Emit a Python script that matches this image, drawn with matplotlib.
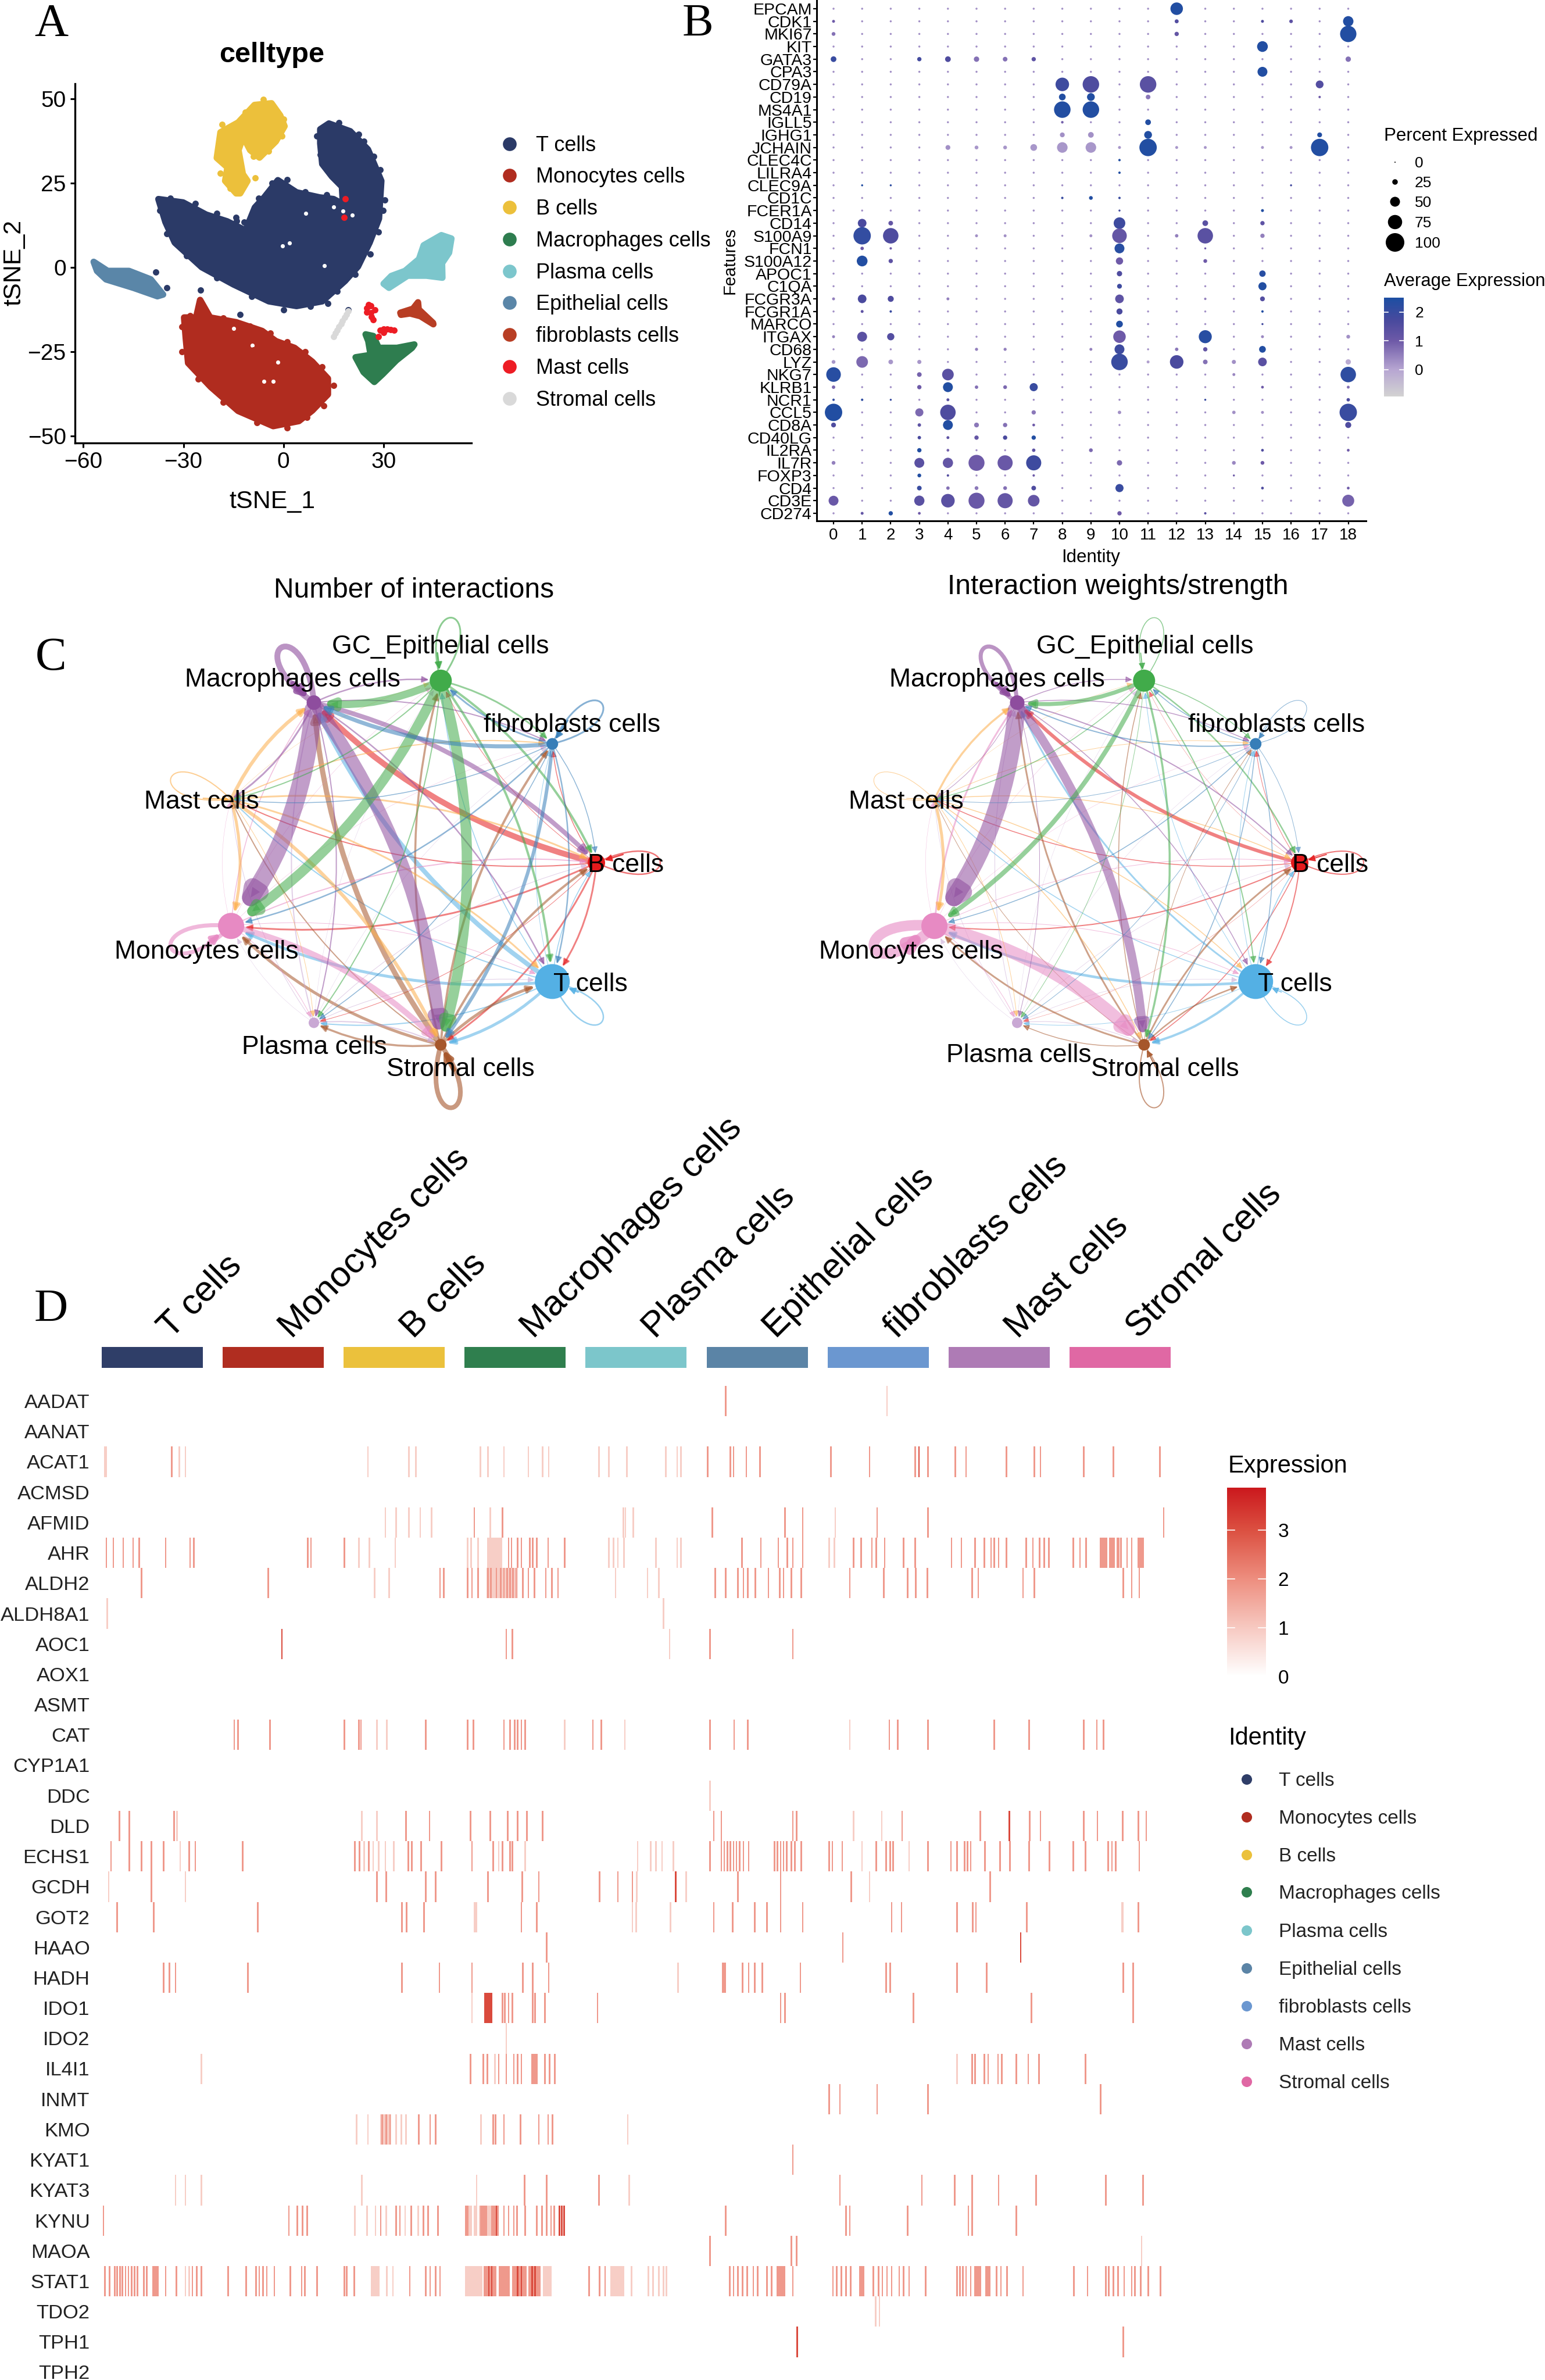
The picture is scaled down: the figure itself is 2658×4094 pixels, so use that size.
import numpy as np
import matplotlib
matplotlib.use("Agg")
import matplotlib.pyplot as plt
from matplotlib.colors import LinearSegmentedColormap
from matplotlib.patches import FancyArrowPatch, PathPatch, Rectangle
from matplotlib.path import Path

plt.rcParams['font.family'] = ['Liberation Sans', 'DejaVu Sans']

W, H = 2658, 4094

# ---- panel A data (outlines of the clouds)
cell_types = ['T cells', 'Monocytes cells', 'B cells', 'Macrophages cells', 'Plasma cells',
              'Epithelial cells', 'fibroblasts cells', 'Mast cells', 'Stromal cells']
tsne_colors = ['#2b3a67', '#b02c1f', '#ecc03b', '#2e7d4f', '#7cc6cc', '#5a86a8', '#b83e24', '#ed1c24', '#d9d9d9']
t_cells = [(-37.5, 20.3), (-30.1, 19.3), (-23.2, 15.7), (-16.9, 13.7), (-11.4, 11.0), (-8.6, 17.8), (-5.8, 20.8),
           (-1.7, 25.9), (3.9, 22.3), (10.8, 20.8), (15.0, 20.3), (17.8, 18.8), (17.5, 24.0), (14.5, 27.0),
           (11.6, 30.7), (11.0, 36.8), (11.0, 41.0), (13.6, 42.7), (20.0, 40.4), (25.3, 35.0), (29.3, 25.7),
           (28.6, 14.5), (25.8, 7.4), (22.3, 0.3), (18.4, -4.0), (11.6, -10.0), (3.9, -11.4), (-4.4, -10.0),
           (-15.0, -5.0), (-24.5, 0.1), (-32.6, 7.4), (-35.4, 13.5)]
edge_t = [(-34, 20.6), (-26.5, 19), (-20, 16), (-14, 13.8), (-7.5, 20.5), (-3.5, 25), (1, 26), (6.5, 22.5), (13, 21.5),
          (22.5, 39.5), (24, 37.5), (27, 33), (29, 29), (30.3, 20), (29.8, 17), (28.5, 10.5), (26, 4), (21.5, -2),
          (16, -7), (8, -11.5), (0, -12.5), (-9.5, -8.5), (-20, -3), (-29, 3.5), (-35, 10), (-37, 17), (11.0, 33.5),
          (10, 39), (16.5, 43), (13.5, 29)]
mono_cells = [(-29.8, -14.8), (-26.2, -14.8), (-25.0, -9.6), (-22.0, -14.8), (-14.2, -16.2), (-6.4, -18.8),
              (-2.3, -21.8), (3.3, -23.8), (8.6, -27.9), (13.3, -32.9), (13.3, -37.6), (8.6, -42.4), (4.6, -45.5),
              (-3.1, -47.0), (-13.6, -42.5), (-21.8, -35.4), (-28.6, -28.3), (-29.3, -21.0)]
edge_mono = [(-28, -14.2), (-18, -15), (-10, -17.3), (-4, -19.5), (1, -22), (6.5, -25), (11.5, -29.5), (15, -35), (12, -41),
             (7, -44.5), (1, -47.5), (-8, -46), (-18, -40), (-25.5, -33), (-30.5, -25), (-30.5, -17.5)]
b_cells = [(-14.2, 22.0), (-17.5, 25.7), (-16.8, 29.7), (-20.0, 32.5), (-18.9, 40.1), (-13.6, 43.0), (-8.7, 48.2),
           (-3.6, 48.7), (-1.0, 45.1), (0.3, 41.9), (-2.3, 37.4), (-7.2, 32.6), (-10.0, 34.8), (-12.1, 38.8),
           (-13.5, 34.8), (-12.2, 27.7), (-10.8, 25.7), (-13.0, 22.0)]
edge_b = [(-19.5, 36), (-18.5, 42.5), (-11.5, 46), (-6, 49.8), (0, 44), (-0.5, 39), (-4.5, 34.5), (-9, 33), (-19, 28),
          (-16, 23.5), (-8.5, 26.5)]
macro_cells = [(24.6, -19.8), (26.9, -20.3), (28.5, -23.8), (34.0, -23.8), (39.2, -22.8), (38.5, -23.8), (33.8, -27.5),
               (29.7, -31.6), (27.2, -33.9), (24.0, -31.0), (21.6, -26.6), (26.1, -25.9), (25.4, -21.8)]
plasma_cells = [(30.0, -4.8), (32.3, -2.5), (36.4, -1.0), (40.6, 2.5), (42.0, 6.6), (47.3, 9.6), (50.3, 8.6),
                (49.6, 4.4), (47.5, 1.3), (47.6, -3.0), (42.8, -2.4), (37.2, -2.4), (31.6, -6.0)]
epi_cells = [(-56.9, 1.7), (-52.7, -1.0), (-46.3, -1.0), (-39.8, -3.5), (-36.1, -8.0), (-37.8, -8.5), (-45.0, -6.0),
             (-53.2, -3.5), (-55.9, -1.0)]
fibro_cells = [(35.0, -13.4), (38.8, -12.2), (40.3, -10.3), (40.5, -12.4), (44.8, -16.4), (44.9, -16.8), (41.0, -14.4),
               (37.9, -13.6), (35.2, -14.0)]
mast_cells = [(25.4, -10.9), (26.1, -13.4), (26.8, -15.4), (25.0, -12.0), (27.3, -12.5), (26.2, -11.4), (24.9, -13.2),
              (26.4, -14.6), (28.9, -18.5), (30.0, -18.2), (31.0, -18.2), (32.0, -18.4), (33.1, -18.5), (30.0, -19.2),
              (18.2, 14.9), (18.5, 20.3), (28.5, -20.5)]
stromal_cells = [(19.4, -12.9), (18.8, -13.9), (18.3, -14.8), (17.7, -15.8), (17.2, -16.7), (16.6, -17.6), (16.1, -18.6),
                 (15.5, -19.5), (15.0, -20.5)]
stray_t = [(-38.2, -1.4), (-35.0, -6.0), (-24.9, -6.6), (-13.1, -13.9), (-14.2, 14.8), (-11.8, 13.5), (13.3, -10.6),
           (17.8, 18.6), (21.2, 18.6), (19.4, -12.5)]
holes_t = [(-0.3, 6.4), (1.8, 7.2), (12.2, 0.5), (17.8, 16.8), (15.0, 18.0), (20.6, 15.5), (6.7, 16.0)]
holes_mono = [(-9.3, -23.0), (-1.7, -28.1), (-14.9, -18.0), (-5.8, -33.7), (-3.1, -33.7)]
stray_mono = [(-9.0, -24.5)]

# ---- panel B data
dot_genes = ['EPCAM', 'CDK1', 'MKI67', 'KIT', 'GATA3', 'CPA3', 'CD79A', 'CD19', 'MS4A1', 'IGLL5', 'IGHG1', 'JCHAIN',
             'CLEC4C', 'LILRA4', 'CLEC9A', 'CD1C', 'FCER1A', 'CD14', 'S100A9', 'FCN1', 'S100A12', 'APOC1', 'C1QA',
             'FCGR3A', 'FCGR1A', 'MARCO', 'ITGAX', 'CD68', 'LYZ', 'NKG7', 'KLRB1', 'NCR1', 'CCL5', 'CD8A', 'CD40LG',
             'IL2RA', 'IL7R', 'FOXP3', 'CD4', 'CD3E', 'CD274']
idents = list(range(19))
# percent expressed, only where above the background dot
dot_pct = {
    'EPCAM': {12: 65}, 'CDK1': {18: 53, 12: 16, 15: 10, 16: 14, 0: 10}, 'MKI67': {18: 87, 12: 18, 0: 15},
    'KIT': {15: 55}, 'GATA3': {0: 26, 3: 18, 4: 26, 5: 24, 6: 20, 7: 18, 18: 24}, 'CPA3': {15: 50},
    'CD79A': {8: 71, 9: 88, 11: 88, 17: 38}, 'CD19': {8: 32, 9: 38, 11: 20, 17: 7}, 'MS4A1': {8: 88, 9: 88},
    'IGLL5': {11: 26, 8: 8}, 'IGHG1': {11: 38, 17: 21, 8: 21, 9: 26},
    'JCHAIN': {11: 93, 17: 93, 4: 21, 5: 15, 6: 15, 7: 32, 8: 54, 9: 54, 10: 10, 12: 10, 13: 10, 15: 10, 16: 10},
    'CLEC4C': {10: 7}, 'LILRA4': {10: 7}, 'CLEC9A': {1: 5, 2: 5, 16: 5}, 'CD1C': {8: 7, 9: 15, 10: 7},
    'FCER1A': {15: 10, 10: 5}, 'CD14': {1: 43, 2: 20, 10: 60, 13: 26, 15: 18},
    'S100A9': {1: 93, 2: 82, 10: 77, 13: 82, 12: 13, 15: 18, 6: 10, 5: 10, 9: 10},
    'FCN1': {10: 50, 1: 13, 2: 7, 13: 5}, 'S100A12': {1: 55, 2: 18, 10: 35, 13: 15}, 'APOC1': {10: 24, 15: 30},
    'C1QA': {10: 21, 15: 40}, 'FCGR3A': {1: 43, 2: 28, 10: 43, 15: 21, 0: 10, 4: 10, 13: 7},
    'FCGR1A': {1: 10, 2: 7, 10: 28, 15: 7}, 'MARCO': {10: 32, 15: 5},
    'ITGAX': {1: 50, 2: 35, 10: 65, 13: 68, 0: 10, 15: 10, 18: 15},
    'CD68': {10: 50, 13: 18, 15: 32, 12: 13, 5: 11, 6: 11, 9: 10},
    'LYZ': {10: 88, 12: 71, 1: 60, 0: 15, 2: 20, 3: 17, 13: 20, 14: 17, 15: 43, 18: 24, 11: 10},
    'NKG7': {0: 77, 18: 82, 4: 60, 3: 20, 14: 10}, 'KLRB1': {4: 50, 7: 40, 3: 18, 5: 13, 6: 15, 0: 13, 18: 10, 15: 9},
    'NCR1': {0: 7, 1: 7, 2: 5, 4: 10, 13: 5, 18: 13},
    'CCL5': {0: 93, 18: 93, 4: 82, 3: 40, 7: 18, 10: 13, 15: 10, 14: 13},
    'CD8A': {0: 21, 4: 50, 5: 21, 6: 18, 3: 13, 7: 9, 18: 28}, 'CD40LG': {3: 13, 4: 10, 5: 18, 6: 18, 7: 18},
    'IL2RA': {3: 18, 4: 9, 7: 13, 9: 15, 15: 9, 18: 9},
    'IL7R': {0: 15, 3: 50, 4: 52, 5: 85, 6: 80, 7: 80, 10: 24, 14: 15, 15: 15},
    'FOXP3': {3: 15, 4: 7, 7: 7, 14: 5}, 'CD4': {3: 20, 4: 13, 5: 15, 6: 15, 7: 20, 10: 40, 15: 9, 18: 9},
    'CD3E': {0: 50, 3: 52, 4: 71, 5: 85, 6: 80, 7: 60, 18: 62}, 'CD274': {1: 10, 2: 18, 3: 9, 10: 18, 13: 7},
}
# average expression of the same dots
dot_avg = {
    'EPCAM': {12: 2.4}, 'CDK1': {18: 2.4, 12: 1.5, 15: 1.6, 16: 1.3, 0: 1.0}, 'MKI67': {18: 2.4, 12: 1.2, 0: 0.7},
    'KIT': {15: 2.4}, 'GATA3': {0: 2.0, 3: 1.8, 4: 1.6, 5: 0.7, 6: 0.7, 7: 1.3, 18: 0.7}, 'CPA3': {15: 2.4},
    'CD79A': {8: 1.9, 9: 1.6, 11: 1.4, 17: 1.5}, 'CD19': {8: 2.4, 9: 2.4, 11: 0.6, 17: 1.0}, 'MS4A1': {8: 2.4, 9: 2.4},
    'IGLL5': {11: 2.4, 8: 0.9}, 'IGHG1': {11: 2.4, 17: 2.4, 8: 0.3, 9: 0.3},
    'JCHAIN': {11: 2.4, 17: 2.4, 4: 0.3, 5: 0.2, 6: 0.2, 7: 0.2, 8: 0.2, 9: 0.2, 10: 0.2, 12: 0.2, 13: 0.2, 15: 0.2, 16: 0.2},
    'CLEC4C': {10: 2.4}, 'LILRA4': {10: 2.4}, 'CLEC9A': {1: 2.4, 2: 2.2, 16: 1.8}, 'CD1C': {8: 2.0, 9: 2.4, 10: 2.0},
    'FCER1A': {15: 2.4, 10: 1.8}, 'CD14': {1: 1.7, 2: 1.2, 10: 1.9, 13: 1.4, 15: 1.3},
    'S100A9': {1: 2.1, 2: 1.6, 10: 1.2, 13: 1.4, 12: 0.5, 15: 0.5, 6: 0.3, 5: 0.3, 9: 0.3},
    'FCN1': {10: 2.3, 1: 1.0, 2: 1.0, 13: 1.0}, 'S100A12': {1: 2.4, 2: 1.3, 10: 1.0, 13: 1.0}, 'APOC1': {10: 1.6, 15: 2.3},
    'C1QA': {10: 1.9, 15: 2.4}, 'FCGR3A': {1: 1.7, 2: 1.6, 10: 1.3, 15: 1.5, 0: 0.5, 4: 0.5, 13: 0.5},
    'FCGR1A': {1: 1.3, 2: 2.0, 10: 1.7, 15: 2.4}, 'MARCO': {10: 2.4, 15: 1.8},
    'ITGAX': {1: 1.4, 2: 1.5, 10: 1.0, 13: 2.3, 0: 0.5, 15: 0.4, 18: 0.3},
    'CD68': {10: 1.9, 13: 1.2, 15: 2.4, 12: 0.6, 5: 0.5, 6: 0.5, 9: 0.5},
    'LYZ': {10: 2.0, 12: 1.7, 1: 0.8, 0: 0.2, 2: 0.2, 3: 0.2, 13: 0.7, 14: 0.3, 15: 1.4, 18: -0.1, 11: 0.1},
    'NKG7': {0: 2.3, 18: 2.2, 4: 1.4, 3: 0.9, 14: 0.4}, 'KLRB1': {4: 2.4, 7: 2.0, 3: 1.0, 5: 0.7, 6: 0.8, 0: 0.8, 18: 0.7, 15: 1.0},
    'NCR1': {0: 2.1, 1: 2.2, 2: 2.0, 4: 1.4, 13: 2.0, 18: 1.6},
    'CCL5': {0: 2.4, 18: 2.0, 4: 1.6, 3: 0.8, 7: 0.6, 10: 0.3, 15: 0.3, 14: 0.3},
    'CD8A': {0: 1.6, 4: 2.4, 5: 0.6, 6: 0.7, 3: 1.3, 7: 1.0, 18: 1.6}, 'CD40LG': {3: 1.7, 4: 1.3, 5: 1.2, 6: 1.7, 7: 2.4},
    'IL2RA': {3: 2.4, 4: 0.9, 7: 1.3, 9: 0.8, 15: 1.6, 18: 1.0},
    'IL7R': {0: 0.5, 3: 1.4, 4: 1.2, 5: 1.0, 6: 1.1, 7: 1.9, 10: 0.8, 14: 0.4, 15: 1.0},
    'FOXP3': {3: 2.4, 4: 1.5, 7: 1.0, 14: 1.0}, 'CD4': {3: 2.0, 4: 0.7, 5: 0.6, 6: 0.7, 7: 1.6, 10: 2.0, 15: 1.6, 18: 1.0},
    'CD3E': {0: 1.1, 3: 1.4, 4: 1.4, 5: 1.1, 6: 1.2, 7: 1.2, 18: 0.9}, 'CD274': {1: 1.2, 2: 2.4, 3: 1.0, 10: 1.0, 13: 1.4},
}
pct_legend = [0, 25, 50, 75, 100]

# ---- panel C data: edge widths, row = source, column = target
net_names = ['B cells', 'T cells', 'Stromal cells', 'Plasma cells', 'Monocytes cells', 'Mast cells', 'Macrophages cells',
             'GC_Epithelial cells', 'fibroblasts cells']
net_colors = ['#e41a1c', '#54b0e4', '#a6562b', '#c9a8d4', '#e78ac3', '#fdae4b', '#8e4d9e', '#41ab4a', '#377eb8']
node_size = [30, 60, 20, 18, 45, 5, 25, 38, 20]
n_interactions = [
    [2.5, 3, 3, 1, 3, 2, 10, 1, 1.5],
    [1.5, 2.5, 5, 2, 5, 2, 8, 1.5, 1],
    [4, 5, 8, 3.5, 5, 2, 9, 3.5, 4],
    [1, 1, 2, 0, 0.5, 1, 2, 0.5, 0.5],
    [2, 1, 10, 1, 7, 0.5, 1.5, 0.5, 0.5],
    [3, 3, 6, 1, 5, 2, 6, 0.5, 2],
    [8, 2.5, 22, 2, 30, 3, 10, 2.5, 2],
    [4, 4, 18, 2, 17, 2, 13, 3, 3],
    [1.5, 2.5, 6, 1.5, 2.5, 1.5, 7, 3, 3],
]
strength = [
    [2, 2, 1.5, 0.5, 2, 1.5, 6, 0.5, 1],
    [1.5, 1.5, 4, 1, 4.5, 1.5, 3, 1, 1],
    [3, 2.5, 2, 1.5, 3, 1, 3, 1.5, 1],
    [0.7, 0.7, 1, 0, 0.5, 0.7, 1, 0.5, 0.5],
    [1, 1, 22, 1, 18, 0.5, 3, 0.5, 0.5],
    [1.5, 1.5, 1.5, 1, 5, 1, 3.5, 0.5, 1],
    [2, 1.5, 15, 1, 30, 1, 7, 1.5, 1.5],
    [2.5, 2, 3.5, 1, 8, 1.5, 7, 1.5, 1.5],
    [1, 1.5, 1.5, 1, 1.5, 1, 2, 1.5, 1],
]

# ---- panel D data: column number of the coloured stripes per gene
heat_genes = ['AADAT', 'AANAT', 'ACAT1', 'ACMSD', 'AFMID', 'AHR', 'ALDH2', 'ALDH8A1', 'AOC1', 'AOX1', 'ASMT', 'CAT',
              'CYP1A1', 'DDC', 'DLD', 'ECHS1', 'GCDH', 'GOT2', 'HAAO', 'HADH', 'IDO1', 'IDO2', 'IL4I1', 'INMT', 'KMO',
              'KYAT1', 'KYAT3', 'KYNU', 'MAOA', 'STAT1', 'TDO2', 'TPH1', 'TPH2']
header_colors = ['#2f3e68', '#b02d20', '#ebc13c', '#2f7f4e', '#7cc6cb', '#5b84a6', '#6b97d0', '#ae7bb5', '#e068a4']
heat_low = {
    'AADAT': [1166],
    'ACAT1': [235, 243, 483, 537, 546, 631, 641, 662, 694, 713, 721, 787, 800, 824, 875, 890, 895],
    'AFMID': [506, 520, 537, 552, 567, 644, 819, 822, 832, 1098],
    'AHR': [471, 485, 519, 614, 619, 628, 800, 806, 812, 820, 862, 890, 895, 1090, 1097],
    'ALDH2': [492, 511, 809, 851, 866],
    'ALDH8A1': [140, 872], 'AOC1': [880],
    'CAT': [495, 508, 742, 821, 1117], 'DDC': [933],
    'DLD': [232, 475, 495, 1122, 1159],
    'ECHS1': [236, 478, 490, 497, 506, 517, 655, 690, 838, 855, 862, 870, 885, 1133, 1195],
    'GCDH': [142, 243, 837, 902, 1143], 'GOT2': [831, 836, 881], 'HADH': [891], 'IDO1': [620], 'IDO2': [665],
    'IL4I1': [264, 650, 1258], 'KMO': [468, 483, 520, 527, 533, 632, 825],
    'KYAT3': [230, 243, 264, 475, 626, 827], 'KYNU': [466, 482, 493, 507, 532, 549], 'MAOA': [1501],
    'STAT1': [243, 248, 508, 516, 830, 852, 858, 866, 872, 876],
    'TDO2': [1151, 1156],
}
heat_mid = {
    'AADAT': [954],
    'ACAT1': [225, 930, 960, 964, 981, 999, 1092, 1143, 1203, 1220, 1256, 1270, 1323, 1360, 1368, 1425, 1464, 1525],
    'AFMID': [623, 660, 936, 1032, 1055, 1153, 1220, 1530],
    'AHR': [139, 148, 161, 174, 182, 217, 249, 254, 404, 408, 452, 668, 672, 680, 685, 696, 700, 705, 720, 742,
            975, 1000, 1023, 1035, 1042, 1055, 1122, 1132, 1146, 1152, 1163, 1188, 1203, 1251, 1264, 1282, 1294, 1303,
            1307, 1313, 1323, 1349, 1358, 1367, 1373, 1379, 1411, 1420, 1428, 1474, 1482, 1488],
    'ALDH2': [185, 352, 578, 583, 614, 620, 628, 641, 645, 652, 658, 662, 666, 670, 674, 678, 687, 694, 702, 717, 725,
              733, 940, 954, 970, 977, 983, 993, 1010, 1025, 1030, 1040, 1053, 1117, 1162, 1193, 1204, 1219, 1278, 1286,
              1345, 1360, 1477, 1488, 1498],
    'AOC1': [665, 673, 933, 1042],
    'CAT': [307, 312, 354, 452, 471, 474, 559, 614, 622, 662, 670, 676, 680, 685, 690, 779, 790, 933, 965, 983, 1169,
            1180, 1220, 1307, 1353, 1425, 1442, 1451],
    'DLD': [156, 169, 228, 533, 564, 618, 644, 667, 680, 692, 713, 938, 948, 1042, 1047, 1186, 1289, 1354, 1368, 1425,
            1443, 1476, 1497, 1507],
    'ECHS1': [145, 169, 185, 198, 214, 248, 256, 318, 466, 472, 484, 536, 541, 553, 580, 620, 648, 660, 670, 673,
              933, 948, 952, 956, 960, 964, 968, 972, 977, 984, 1018, 1022, 1026, 1030, 1034, 1040, 1045, 1053,
              1090, 1094, 1107, 1152, 1165, 1170, 1174, 1220, 1250, 1258, 1268, 1272, 1276, 1295, 1315, 1328, 1353,
              1380, 1411, 1427, 1457, 1462, 1467, 1498],
    'GCDH': [198, 495, 507, 559, 572, 641, 686, 708, 788, 812, 831, 970, 1026, 1119, 1302],
    'GOT2': [153, 201, 338, 528, 534, 557, 685, 705, 938, 963, 992, 1008, 1026, 1055, 1172, 1185, 1258, 1279, 1283,
             1350, 1497],
    'HAAO': [718, 1108],
    'HADH': [214, 222, 230, 325, 528, 577, 620, 687, 700, 721, 976, 984, 992, 1002, 1052, 1165, 1170, 1258, 1297,
             1477, 1490],
    'IDO1': [660, 663, 668, 673, 700, 703, 716, 785, 1026, 1032, 1201, 1356, 1490],
    'IL4I1': [618, 635, 640, 655, 665, 675, 680, 685, 716, 722, 729, 1278, 1282, 1294, 1299, 1312, 1317, 1336, 1352,
              1366, 1427],
    'INMT': [1090, 1104, 1153, 1220, 1447],
    'KMO': [502, 507, 512, 550, 565, 572, 648, 651, 662, 684, 708, 720, 726],
    'KYAT1': [1042],
    'KYAT3': [689, 718, 787, 1104, 1212, 1255, 1278, 1313, 1362, 1454, 1503],
    'KYNU': [135, 379, 390, 397, 403, 500, 520, 525, 540, 556, 562, 575, 662, 668, 675, 679, 690, 705, 712, 718, 724,
             728, 954, 1112, 1117, 1193, 1273, 1278, 1336],
    'MAOA': [933, 1040, 1047],
    'STAT1': [137, 143, 150, 153, 157, 160, 164, 168, 172, 176, 180, 188, 192, 217, 231, 252, 258, 264, 299, 323, 336,
              340, 345, 350, 360, 381, 396, 400, 416, 452, 455, 465, 538, 559, 565, 572, 578, 774, 788, 795, 959, 964,
              970, 976, 982, 990, 996, 1008, 1014, 1042, 1095, 1100, 1106, 1112, 1118, 1148, 1155, 1160, 1166, 1172,
              1182, 1188, 1195, 1217, 1258, 1262, 1266, 1270, 1276, 1310, 1316, 1324, 1345, 1412, 1430, 1454, 1458,
              1464, 1470, 1478, 1488, 1492, 1500, 1510, 1526],
    'TPH1': [1477],
}
heat_high = {
    'AOC1': [370], 'ACAT1': [1208], 'DLD': [1327], 'GCDH': [888], 'HAAO': [1342], 'TPH1': [1048],
    'KYNU': [652, 735, 738, 741], 'STAT1': [642, 646, 680, 685, 699, 703],
}
# runs of neighbouring cells: (first, last)
band_low = {
    'ACAT1': [(137, 140)], 'AHR': [(641, 660)], 'ALDH2': [(640, 680)], 'GOT2': [(623, 627), (1475, 1477)],
    'KMO': [(500, 514)], 'KYNU': [(612, 620), (623, 627), (630, 655)], 'STAT1': [(488, 498), (803, 820), (612, 634), (714, 725)],
}
band_mid = {
    'AHR': [(1447, 1456), (1459, 1466), (1469, 1472), (1497, 1504)], 'HADH': [(950, 954)], 'IL4I1': [(699, 706)],
    'KYNU': [(612, 615), (632, 640), (646, 655)],
    'STAT1': [(200, 208), (636, 652), (656, 670), (674, 692), (695, 710), (1022, 1032), (1130, 1136), (1282, 1290),
              (1296, 1302)],
}
band_high = {'IDO1': [(637, 647)]}
expr_levels = [0.9, 1.8, 3.1]
expr_ticks = [0, 1, 2, 3]


def px_axes(left, top, right, bottom):
    return fig.add_axes([left / W, 1 - bottom / H, (right - left) / W, (bottom - top) / H])


def label(x, y, s, size, **kw):
    # va=center leaves room for descenders, push the text down a bit
    kw.setdefault('ha', 'left')
    return ov.text(x, y + size * 0.11, s, fontsize=size, va='center', **kw)


fig = plt.figure(figsize=(W / 100, H / 100), dpi=100)
ov = fig.add_axes([0, 0, 1, 1], zorder=5)
ov.set_xlim(0, W)
ov.set_ylim(H, 0)
ov.axis('off')
ov.patch.set_alpha(0)

for letter, lx, ly in [('A', 88, 36), ('B', 1200, 36), ('C', 88, 1126), ('D', 88, 2247)]:
    label(lx, ly, letter, 58, family='Liberation Serif', ha='center')

# ---- A: tSNE
ax = px_axes(129, 144, 811, 762)
clouds = [t_cells, mono_cells, b_cells, macro_cells, plasma_cells, epi_cells, fibro_cells]
for pts, col in zip(clouds, tsne_colors):
    pts = np.array(pts)
    ax.fill(pts[:, 0], pts[:, 1], color=col, lw=8, joinstyle='round', zorder=2)
for pts, col in [(edge_t, tsne_colors[0]), (edge_mono, tsne_colors[1]), (edge_b, tsne_colors[2])]:
    pts = np.array(pts)
    ax.scatter(pts[:, 0], pts[:, 1], s=62, color=col, lw=0, zorder=2)
holes = np.array(holes_t + holes_mono)
ax.scatter(holes[:, 0], holes[:, 1], s=26, color='white', lw=0, zorder=3)
for pts, col in [(stray_t, tsne_colors[0]), (stray_mono, tsne_colors[1]), (mast_cells, tsne_colors[7]),
                 (stromal_cells, tsne_colors[8])]:
    pts = np.array(pts)
    ax.scatter(pts[:, 0], pts[:, 1], s=62, color=col, lw=0, zorder=4)
ax.set_xlim(-62.5, 56.3)
ax.set_ylim(-52, 54.5)
ax.set_xticks([-60, -30, 0, 30])
ax.set_xticklabels(['\u221260', '\u221230', '0', '30'])
ax.set_yticks([-50, -25, 0, 25, 50])
ax.set_yticklabels(['\u221250', '\u221225', '0', '25', '50'])
ax.tick_params(labelsize=28, width=2.2, length=6, pad=5)
for s in ['top', 'right']:
    ax.spines[s].set_visible(False)
for s in ['left', 'bottom']:
    ax.spines[s].set_linewidth(2.4)
label(468, 91, 'celltype', 35, fontweight='bold', ha='center')
label(468, 860, 'tSNE_1', 31, ha='center')
ov.text(24, 452, 'tSNE_2', fontsize=31, rotation=90, ha='center', va='center')
leg_y = [248, 302, 357, 412, 467, 521, 576, 631, 686]
ov.scatter([877] * 9, leg_y, s=290, c=tsne_colors, lw=0)
for name, yy in zip(cell_types, leg_y):
    label(922, yy, name, 26)

# ---- B: dot plot
stops = [-0.93, 0, 1, 1.7, 2.5]
stop_cols = ['#d3d3d3', '#b7a6d2', '#6e5aa8', '#4a4a9e', '#1d4fa3']
dot_cmap = LinearSegmentedColormap.from_list('dot', [((v - stops[0]) / (stops[-1] - stops[0]), c)
                                                     for v, c in zip(stops, stop_cols)])


def dot_area(pct):
    # diameter in px grows with the percent, area in pt^2 for scatter
    return ((2 + 0.3 * np.asarray(pct, dtype=float)) * 0.72) ** 2


xs, ys, pcts, avgs = [], [], [], []
for row, gene in enumerate(dot_genes):
    for ident in idents:
        xs.append(ident)
        ys.append(row)
        pcts.append(dot_pct[gene].get(ident, 5))
        avgs.append(dot_avg[gene].get(ident, 0.3))
ax = px_axes(1405, 0, 2350, 896)
ax.scatter(xs, ys, s=dot_area(pcts), c=avgs, cmap=dot_cmap, vmin=stops[0], vmax=stops[-1], lw=0, clip_on=False)
ax.set_xlim(-0.59, 18.62)
ax.set_ylim(40.6, -0.69)
ax.set_xticks(idents)
ax.set_yticks(range(len(dot_genes)))
ax.set_yticklabels(dot_genes)
ax.tick_params(axis='y', labelsize=20.5, width=1.6, length=4, pad=2)
ax.tick_params(axis='x', labelsize=20, width=1.6, length=4, pad=5)
for s in ['top', 'right']:
    ax.spines[s].set_visible(False)
for s in ['left', 'bottom']:
    ax.spines[s].set_linewidth(2.2)
label(1877, 957, 'Identity', 22.5, ha='center')
ov.text(1256, 448, 'Features', fontsize=21, rotation=90, ha='center', va='center')
label(2381, 232, 'Percent Expressed', 22.5)
pct_y = [279, 313, 347, 382, 417]
ov.scatter([2400] * 5, pct_y, s=dot_area(pct_legend), color='black', lw=0)
for p, yy in zip(pct_legend, pct_y):
    label(2434, yy, str(p), 19)
label(2381, 482, 'Average Expression', 22.3)
cax = px_axes(2381, 512, 2415, 682)
cax.imshow(np.linspace(stops[-1], stops[0], 256).reshape(-1, 1), cmap=dot_cmap, vmin=stops[0], vmax=stops[-1],
           aspect='auto', extent=(0, 1, stops[0], stops[-1]))
cax.set_xticks([])
cax.set_yticks([0, 1, 2])
cax.yaxis.tick_right()
cax.tick_params(axis='y', labelsize=19, length=0, pad=14)
for v in [0, 1, 2]:
    cax.plot([0, 0.2], [v, v], color='white', lw=1.2)
    cax.plot([0.8, 1], [v, v], color='white', lw=1.2)
cax.set_xlim(0, 1)
for s in cax.spines.values():
    s.set_visible(False)

# ---- C: circle networks
order_angle = np.deg2rad(np.arange(9) * 40.0)


def draw_net(cx, cy, widths, title, tx, ty, label_pos):
    nx = cx + 324 * np.cos(order_angle)
    ny = cy + 318 * np.sin(order_angle)
    for i in range(9):
        col = net_colors[i]
        for j in range(9):
            w = widths[i][j]
            if w <= 0:
                continue
            lw = w * 0.72
            if i == j:
                # self loop pointing away from the circle centre
                a = np.arctan2(ny[i] - cy, nx[i] - cx)
                p0 = np.array([nx[i], ny[i]])
                c1 = p0 + 162 * np.array([np.cos(a + 0.44), np.sin(a + 0.44)])
                c2 = p0 + 162 * np.array([np.cos(a - 0.44), np.sin(a - 0.44)])
                path = Path([p0, c1, c2, p0], [Path.MOVETO, Path.CURVE4, Path.CURVE4, Path.CURVE4])
                ov.add_patch(PathPatch(path, fc='none', ec=col, lw=lw, alpha=0.6, zorder=2))
                tail = p0 + 48 * np.array([np.cos(a - 0.3), np.sin(a - 0.3)])
                ov.add_patch(FancyArrowPatch(tuple(tail), tuple(p0), arrowstyle='-|>,head_length=0.9,head_width=0.45',
                                             mutation_scale=7 + lw * 0.4, color=col, lw=lw, alpha=0.8, zorder=2,
                                             shrinkA=0, shrinkB=node_size[i] * 0.36))
                continue
            head = 7 + lw * 0.3
            arrow = FancyArrowPatch((nx[i], ny[i]), (nx[j], ny[j]), connectionstyle='arc3,rad=-0.14',
                                    arrowstyle='-|>,head_length=0.9,head_width=0.42', mutation_scale=head,
                                    color=col, lw=lw, alpha=0.55, zorder=2,
                                    shrinkA=node_size[i] * 0.36, shrinkB=node_size[j] * 0.36 + 1)
            ov.add_patch(arrow)
    ov.scatter(nx, ny, s=(np.array(node_size) * 0.72) ** 2, c=net_colors, lw=0, zorder=3)
    for name, (lx, ly) in zip(net_names, label_pos):
        label(lx, ly, name, 32, ha='center', zorder=4)
    label(tx, ty, title, 34.5, ha='center')


left_labels = [(1077, 1485), (1016, 1690), (792, 1836), (541, 1798), (355, 1634), (347, 1376), (503, 1166), (758, 1109),
               (984, 1244)]
right_labels = [(2289, 1485), (2228, 1690), (2004, 1836), (1753, 1812), (1567, 1634), (1559, 1376), (1715, 1166),
                (1970, 1109), (2196, 1244)]
draw_net(702, 1484, n_interactions, 'Number of interactions', 712, 1012, left_labels)
draw_net(1912, 1484, strength, 'Interaction weights/strength', 1923, 1006, right_labels)

# ---- D: heatmap
n_cols = 1541
heat = np.zeros((len(heat_genes), n_cols))
for level, stripes, bands in zip(expr_levels, [heat_low, heat_mid, heat_high], [band_low, band_mid, band_high]):
    for gene, cells in bands.items():
        row = heat_genes.index(gene)
        for first, last in cells:
            heat[row, first:last + 1] = np.maximum(heat[row, first:last + 1], level)
    for gene, cells in stripes.items():
        row = heat_genes.index(gene)
        for c in cells:
            heat[row, c:c + 2] = np.maximum(heat[row, c:c + 2], level)

heat_cmap = LinearSegmentedColormap.from_list('heat', [(0, '#ffffff'), (0.26, '#f7c8c0'), (0.51, '#ee8f80'),
                                                       (0.77, '#dc5142'), (1, '#cb181d')])
ax = px_axes(174, 2384, 2014, 2384 + 33 * 52.2)
ax.imshow(heat[:, 133:], aspect='auto', cmap=heat_cmap, vmin=0, vmax=3.9, interpolation='nearest',
          extent=(133, n_cols, len(heat_genes) - 0.5, -0.5))
ax.set_xticks([])
ax.set_yticks(range(len(heat_genes)))
ax.set_yticklabels(heat_genes, color='#222222')
ax.tick_params(axis='y', labelsize=24.8, length=0, pad=14)
for s in ax.spines.values():
    s.set_visible(False)

group_names = ['T cells', 'Monocytes cells', 'B cells', 'Macrophages cells', 'Plasma cells', 'Epithelial cells',
               'fibroblasts cells', 'Mast cells', 'Stromal cells']
for i, (name, col) in enumerate(zip(group_names, header_colors)):
    x0 = 175 + i * 208.1
    ov.add_patch(Rectangle((x0, 2317), 174, 36, color=col, lw=0))
    ov.text(x0 + 119, 2304, name, fontsize=44, rotation=45, rotation_mode='anchor', ha='left', va='baseline')

# expression colour bar
label(2113, 2519, 'Expression', 30)
cax = px_axes(2111, 2559, 2178, 2884)
cax.imshow(np.linspace(3.87, 0, 256).reshape(-1, 1), cmap=heat_cmap, vmin=0, vmax=3.9, aspect='auto',
           extent=(0, 1, 0, 3.87))
cax.set_xticks([])
cax.set_yticks(expr_ticks)
cax.yaxis.tick_right()
cax.tick_params(axis='y', labelsize=24, length=0, pad=15)
for v in expr_ticks[1:]:
    cax.plot([0, 0.2], [v, v], color='white', lw=1.2)
    cax.plot([0.8, 1], [v, v], color='white', lw=1.2)
cax.set_xlim(0, 1)
for s in cax.spines.values():
    s.set_visible(False)

label(2113, 2987, 'Identity', 30)
ident_y = [3061, 3126, 3191, 3255, 3321, 3386, 3451, 3516, 3581]
ov.scatter([2145] * 9, ident_y, s=170, c=header_colors, lw=0)
for name, yy in zip(group_names, ident_y):
    label(2200, yy, name, 24, color='#222222')

fig.savefig('out.png', dpi=100, facecolor='white')
